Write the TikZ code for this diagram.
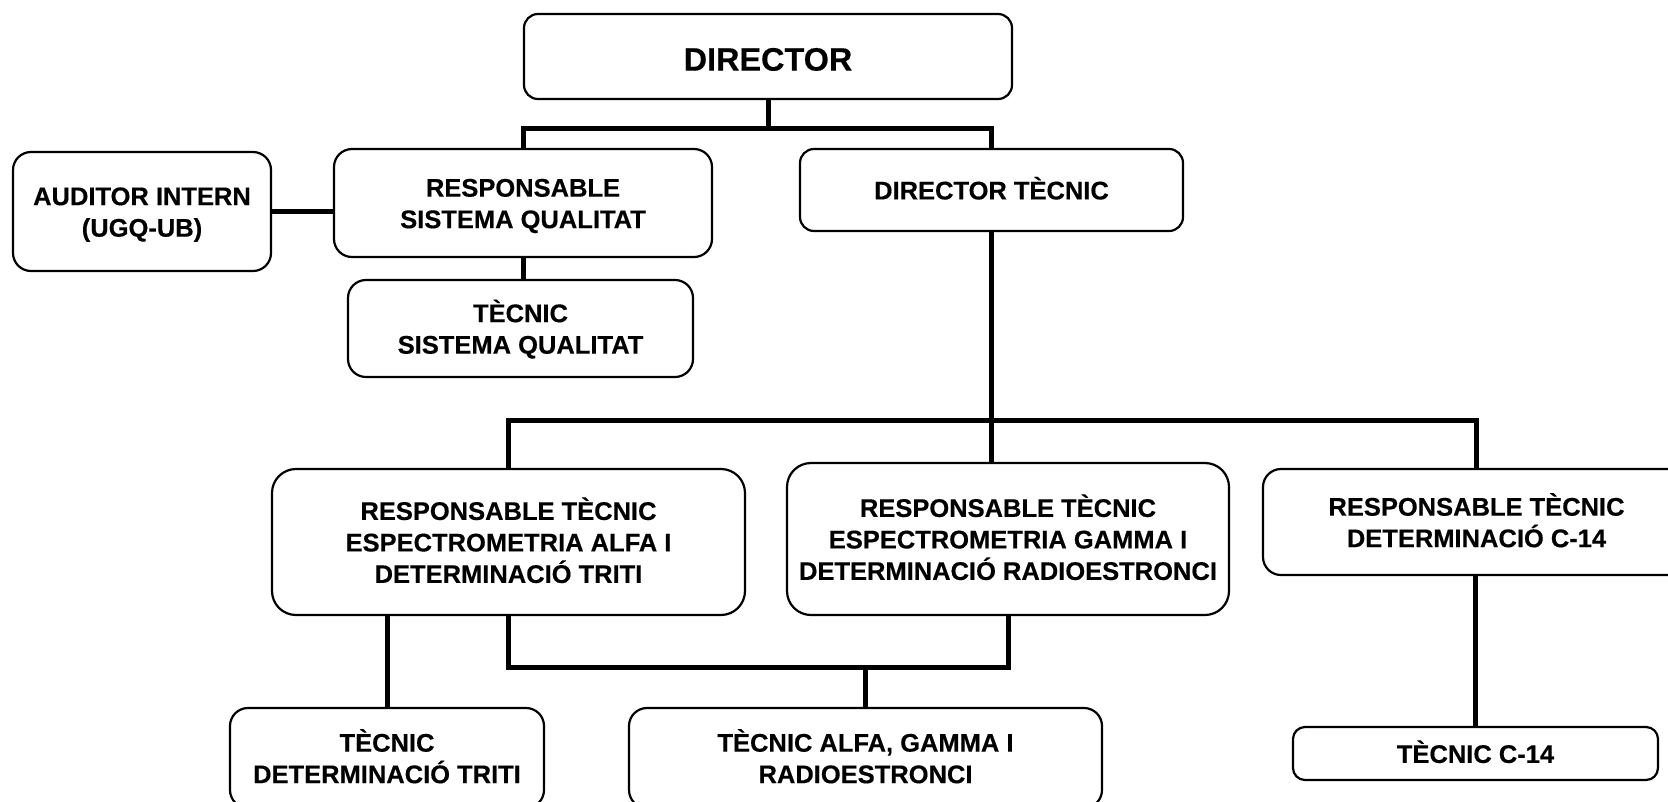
\documentclass[tikz,border=0pt]{standalone}
\usepackage{fontspec}
\setmainfont{Liberation Sans}[BoldFeatures={FakeBold=0.4}]
\newcommand\ms{\rule[-6.2pt]{0pt}{31.2pt}}
\begin{document}
\begin{tikzpicture}[x=1pt,y=-1pt,
  orgbox/.style={draw, line width=2.2pt, rounded corners=18pt, inner sep=0pt,
    align=center, font=\fontsize{25.5}{31.5}\selectfont\bfseries},
  link/.style={line width=5pt}]
\clip (0,0) rectangle (1668,801);
\fill[white] (0,0) rectangle (1668,801);
\node[orgbox, rounded corners=14pt, minimum width=488pt, minimum height=85pt,
  font=\fontsize{32.4}{36}\selectfont\bfseries] (dir) at (768,56.5) {\rule[-3.8pt]{0pt}{35.8pt}DIRECTOR};
\node[orgbox, minimum width=378pt, minimum height=108pt] (rsq) at (523,203) {\ms RESPONSABLE\\\ms SISTEMA QUALITAT};
\node[orgbox, minimum width=258pt, minimum height=119pt] (aud) at (142,211.5) {\ms AUDITOR INTERN\\\ms (UGQ-UB)};
\node[orgbox, minimum width=345pt, minimum height=97pt] (tsq) at (520.5,328.5) {\ms TÈCNIC\\\ms SISTEMA QUALITAT};
\node[orgbox, rounded corners=14pt, minimum width=383pt, minimum height=82pt] (dt) at (991.5,190) {\ms DIRECTOR TÈCNIC};
\node[orgbox, rounded corners=24pt, minimum width=473pt, minimum height=146pt] (rta) at (508.5,542) {\ms RESPONSABLE TÈCNIC\\\ms ESPECTROMETRIA ALFA I\\\ms DETERMINACIÓ TRITI};
\node[orgbox, rounded corners=24pt, minimum width=442pt, minimum height=152pt] (rtg) at (1008,539) {\ms RESPONSABLE TÈCNIC\\\ms ESPECTROMETRIA GAMMA I\\\ms DETERMINACIÓ RADIOESTRONCI};
\node[orgbox, minimum width=427pt, minimum height=106pt] (rtc) at (1476.5,522) {\ms RESPONSABLE TÈCNIC\\\ms DETERMINACIÓ C-14};
\node[orgbox, minimum width=314pt, minimum height=100pt] (tdt) at (387,758) {\ms TÈCNIC\\\ms DETERMINACIÓ TRITI};
\node[orgbox, minimum width=473pt, minimum height=100pt] (tag) at (865.5,758) {\ms TÈCNIC ALFA, GAMMA I\\\ms RADIOESTRONCI};
\node[orgbox, rounded corners=12pt, minimum width=365pt, minimum height=53pt] (tc) at (1475.5,753.5) {\ms TÈCNIC C-14};
\coordinate (bara) at (0,128);
\coordinate (barb) at (0,420);
\coordinate (barc) at (0,667);
\draw[link] (dir.south) -- (dir.south |- bara);
\draw[link] (rsq.north) -- (rsq.north |- bara) -- (dt.north |- bara) -- (dt.north);
\draw[link] (aud.east) -- (aud.east -| rsq.west);
\draw[link] (rsq.south) -- (rsq.south |- tsq.north);
\draw[link] (dt.south) -- (dt.south |- rtg.north);
\draw[link] (rta.north) -- (rta.north |- barb) -- (rtc.north |- barb) -- (rtc.north);
\draw[link] (tdt.north) -- (tdt.north |- rta.south);
\draw[link] (rta.south) -- (rta.south |- barc) -- (rtg.south |- barc) -- (rtg.south);
\draw[link] (tag.north) -- (tag.north |- barc);
\draw[link] (tc.north) -- (tc.north |- rtc.south);
\end{tikzpicture}
\end{document}
